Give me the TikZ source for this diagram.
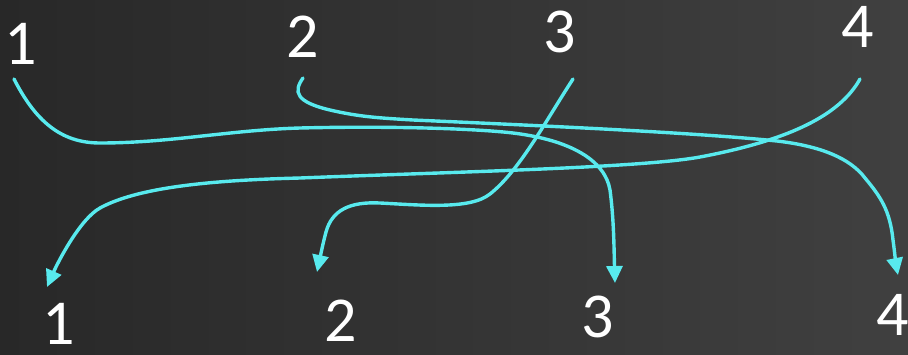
\documentclass[tikz,border=0pt]{standalone}
\usepackage{fontspec}
\setmainfont{Carlito}
\usetikzlibrary{arrows.meta}
\definecolor{bgleft}{RGB}{40,40,40}
\definecolor{bgright}{RGB}{64,64,64}
\definecolor{wire}{RGB}{88,234,238}
\tikzset{
  num/.style={text=white, inner sep=0pt, font=\fontsize{64}{64}\selectfont},
  link/.style={draw=wire, line width=3.4pt, line cap=round,
    -{Triangle[length=17pt,width=16pt]}}
}
\begin{document}
\begin{tikzpicture}[x=1pt,y=-1pt]
\useasboundingbox (0,0) rectangle (908,354);
\shade[left color=bgleft, right color=bgright] (0,0) rectangle (908,354);
% labels
\node[num] (t1) at (21,44) {1};
\node[num] (t2) at (303,37) {2};
\node[num] (t3) at (560,32) {3};
\node[num] (t4) at (858,27) {4};
\node[num] (b1) at (59,324) {1};
\node[num] (b2) at (341,321) {2};
\node[num] (b3) at (598,317) {3};
\node[num] (b4) at (893,315) {4};
% end points
\coordinate (s1) at (14,79);
\coordinate (s2) at (303,78);
\coordinate (s3) at (573,79);
\coordinate (s4) at (860,79);
\coordinate (e1) at (615,283);
\coordinate (e2) at (317,272);
\coordinate (e3) at (898,275);
\coordinate (e4) at (47,287);
% connectors
\draw[link] (s1) .. controls (35,120) and (60,143) .. (100,143)
  .. controls (170,143) and (230,130) .. (300,128)
  .. controls (380,126) and (470,128) .. (513,133)
  .. controls (570,140) and (605,160) .. (610,190)
  .. controls (614,220) and (614,250) .. (e1);
\draw[link] (s2) .. controls (293,92) and (296,102) .. (330,110)
  .. controls (360,117) and (380,118) .. (413,120)
  .. controls (550,126) and (700,133) .. (777,141)
  .. controls (820,146) and (850,158) .. (865,178)
  .. controls (880,196) and (890,210) .. (893,240)
  .. controls (895,255) and (896,265) .. (e3);
\draw[link] (s3) .. controls (545,122) and (520,170) .. (490,194)
  .. controls (470,210) and (420,205) .. (380,203)
  .. controls (350,201.5) and (332,210) .. (326,232)
  .. controls (323,243) and (320,258) .. (e2);
\draw[link] (s4) .. controls (840,115) and (790,140) .. (700,157)
  .. controls (640,168) and (450,172) .. (300,178)
  .. controls (220,180) and (140,186) .. (100,208)
  .. controls (80,219) and (58,262) .. (e4);
\end{tikzpicture}
\end{document}
